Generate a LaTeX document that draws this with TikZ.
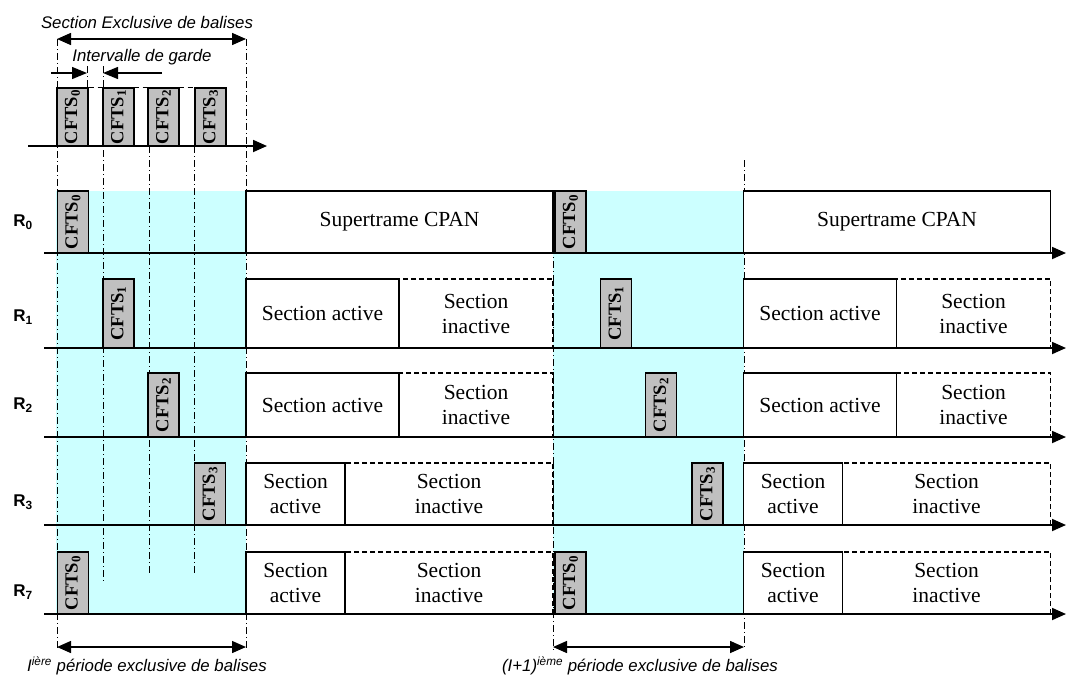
\documentclass[tikz,border=0pt]{standalone}
\usepackage{fontspec}
\setmainfont{Liberation Serif}
\setsansfont{Liberation Sans}
\usetikzlibrary{arrows.meta}

\definecolor{cyanpale}{RGB}{204,255,255}
\definecolor{grisbalise}{RGB}{192,192,192}

\tikzset{
  balise/.style={draw, line width=1.3pt, fill=grisbalise, rotate=90, inner sep=0pt,
    minimum height=31pt, font=\fontsize{18.5}{19}\selectfont\bfseries},
  trame/.style={draw, line width=1.3pt, fill=white, inner sep=0pt, align=center,
    font=\fontsize{21.5}{25}\selectfont},
  inactif/.style={trame, dash pattern=on 5pt off 3pt},
  axe/.style={line width=1.8pt, -{Triangle[length=14pt,width=12pt]}},
  repere/.style={line width=0.9pt, dash pattern=on 7pt off 3pt on 1pt off 3pt},
  duree/.style={line width=1.5pt, {Triangle[length=14pt,width=12pt]}-{Triangle[length=14pt,width=12pt]}},
  garde/.style={line width=1.3pt, -{Triangle[length=15pt,width=12pt]}},
  legende/.style={font=\fontsize{16.8}{19}\selectfont\sffamily\itshape, inner sep=0pt},
  rang/.style={font=\fontsize{17}{19}\selectfont\sffamily\bfseries, inner sep=0pt},
}

\begin{document}
\begin{tikzpicture}[x=1pt,y=-1pt]
  \useasboundingbox (0,0) rectangle (1067,675);

  % zones exclusives
  \fill[cyanpale] (56,191) rectangle (246,614);
  \fill[cyanpale] (553,191) rectangle (744,614);

  % reperes verticaux
  \coordinate (g0h) at (57,39);   \coordinate (g0b) at (57,650);
  \coordinate (g4h) at (246,39);  \coordinate (g4b) at (246,650);
  \coordinate (gah) at (87,66);   \coordinate (gab) at (87,88);
  \coordinate (g1h) at (103,66);  \coordinate (g1b) at (103,583);
  \coordinate (g2h) at (149,146); \coordinate (g2b) at (149,575);
  \coordinate (g3h) at (194,146); \coordinate (g3b) at (194,575);
  \coordinate (h0h) at (553,191); \coordinate (h0b) at (553,650);
  \coordinate (h4h) at (744,160); \coordinate (h4b) at (744,650);
  \draw[repere] (g0h) -- (g0b);
  \draw[repere] (g4h) -- (g4b);
  \draw[repere] (gah) -- (gab);
  \draw[repere] (g1h) -- (g1b);
  \draw[repere] (g2h) -- (g2b);
  \draw[repere] (g3h) -- (g3b);
  \draw[repere] (h0h) -- (h0b);
  \draw[repere] (h4h) -- (h4b);

  % intervalles en haut
  \node[legende] (sex) at (147,22) {Section Exclusive de balises};
  \node[legende] (ig) at (142,57) {Intervalle de garde};
  \draw[duree] (g0h) -- (g4h);
  \coordinate (ga1) at (51,73);  \coordinate (ga2) at (87,73);
  \coordinate (gb1) at (162,73); \coordinate (gb2) at (103,73);
  \draw[garde] (ga1) -- (ga2);
  \draw[garde] (gb1) -- (gb2);

  % balises de la ligne du haut
  \node[balise, minimum width=58pt] (c0) at (72.5,117) {CFTS\textsubscript{0}};
  \node[balise, minimum width=58pt] (c1) at (118.5,117) {CFTS\textsubscript{1}};
  \node[balise, minimum width=58pt] (c2) at (163.5,117) {CFTS\textsubscript{2}};
  \node[balise, minimum width=58pt] (c3) at (210.5,117) {CFTS\textsubscript{3}};
  \draw[line width=1.2pt, dash pattern=on 5pt off 4pt] (c0.south east) -- (c3.north east);
  \coordinate (t0) at (28,146); \coordinate (t1) at (267,146);
  \draw[axe] (t0) -- (t1);

  % deux periodes
  \foreach \o/\p in {0/a, 497.5/b} {
    \node[balise, minimum width=62pt] (r0\p) at ({\o+73},222) {CFTS\textsubscript{0}};
    \node[balise, minimum width=69pt] (r1\p) at ({\o+118.5},313.5) {CFTS\textsubscript{1}};
    \node[balise, minimum width=64pt] (r2\p) at ({\o+163.5},405) {CFTS\textsubscript{2}};
    \node[balise, minimum width=62pt] (r3\p) at ({\o+210},494) {CFTS\textsubscript{3}};
    \node[balise, minimum width=62pt] (r7\p) at ({\o+73},583) {CFTS\textsubscript{0}};

    \node[trame, minimum width=307pt, minimum height=62pt] (st\p) at ({\o+399.5},222) {Supertrame CPAN};
    \node[inactif, minimum width=154pt, minimum height=69pt] (si1\p) at ({\o+476},313.5) {Section\\inactive};
    \node[trame, minimum width=153pt, minimum height=69pt] (sa1\p) at ({\o+322.5},313.5) {Section active};
    \node[inactif, minimum width=154pt, minimum height=64pt] (si2\p) at ({\o+476},405) {Section\\inactive};
    \node[trame, minimum width=153pt, minimum height=64pt] (sa2\p) at ({\o+322.5},405) {Section active};
    \node[inactif, minimum width=208pt, minimum height=62pt] (si3\p) at ({\o+449},494) {Section\\inactive};
    \node[trame, minimum width=99pt, minimum height=62pt] (sa3\p) at ({\o+295.5},494) {Section\\active};
    \node[inactif, minimum width=208pt, minimum height=62pt] (si7\p) at ({\o+449},583) {Section\\inactive};
    \node[trame, minimum width=99pt, minimum height=62pt] (sa7\p) at ({\o+295.5},583) {Section\\active};
  }

  % axes des coordinateurs
  \node[rang] (l0) at (23,222) {R\textsubscript{0}};
  \node[rang] (l1) at (23,317) {R\textsubscript{1}};
  \node[rang] (l2) at (23,405) {R\textsubscript{2}};
  \node[rang] (l3) at (23,502) {R\textsubscript{3}};
  \node[rang] (l7) at (23,592) {R\textsubscript{7}};
  \foreach \n/\y in {0/253, 1/348, 2/437, 3/525, 7/614} {
    \coordinate (a\n d) at (44,\y);
    \coordinate (a\n f) at (1066,\y);
    \draw[axe] (a\n d) -- (a\n f);
  }

  % periodes exclusives
  \coordinate (p1d) at (57,647);  \coordinate (p1f) at (246,647);
  \coordinate (p2d) at (553,647); \coordinate (p2f) at (744,647);
  \draw[duree] (p1d) -- (p1f);
  \draw[duree] (p2d) -- (p2f);
  \node[legende] (lp1) at (147,666) {I\textsuperscript{ière} période exclusive de balises};
  \node[legende] (lp2) at (640,666) {(I+1)\textsuperscript{ième} période exclusive de balises};
\end{tikzpicture}
\end{document}
